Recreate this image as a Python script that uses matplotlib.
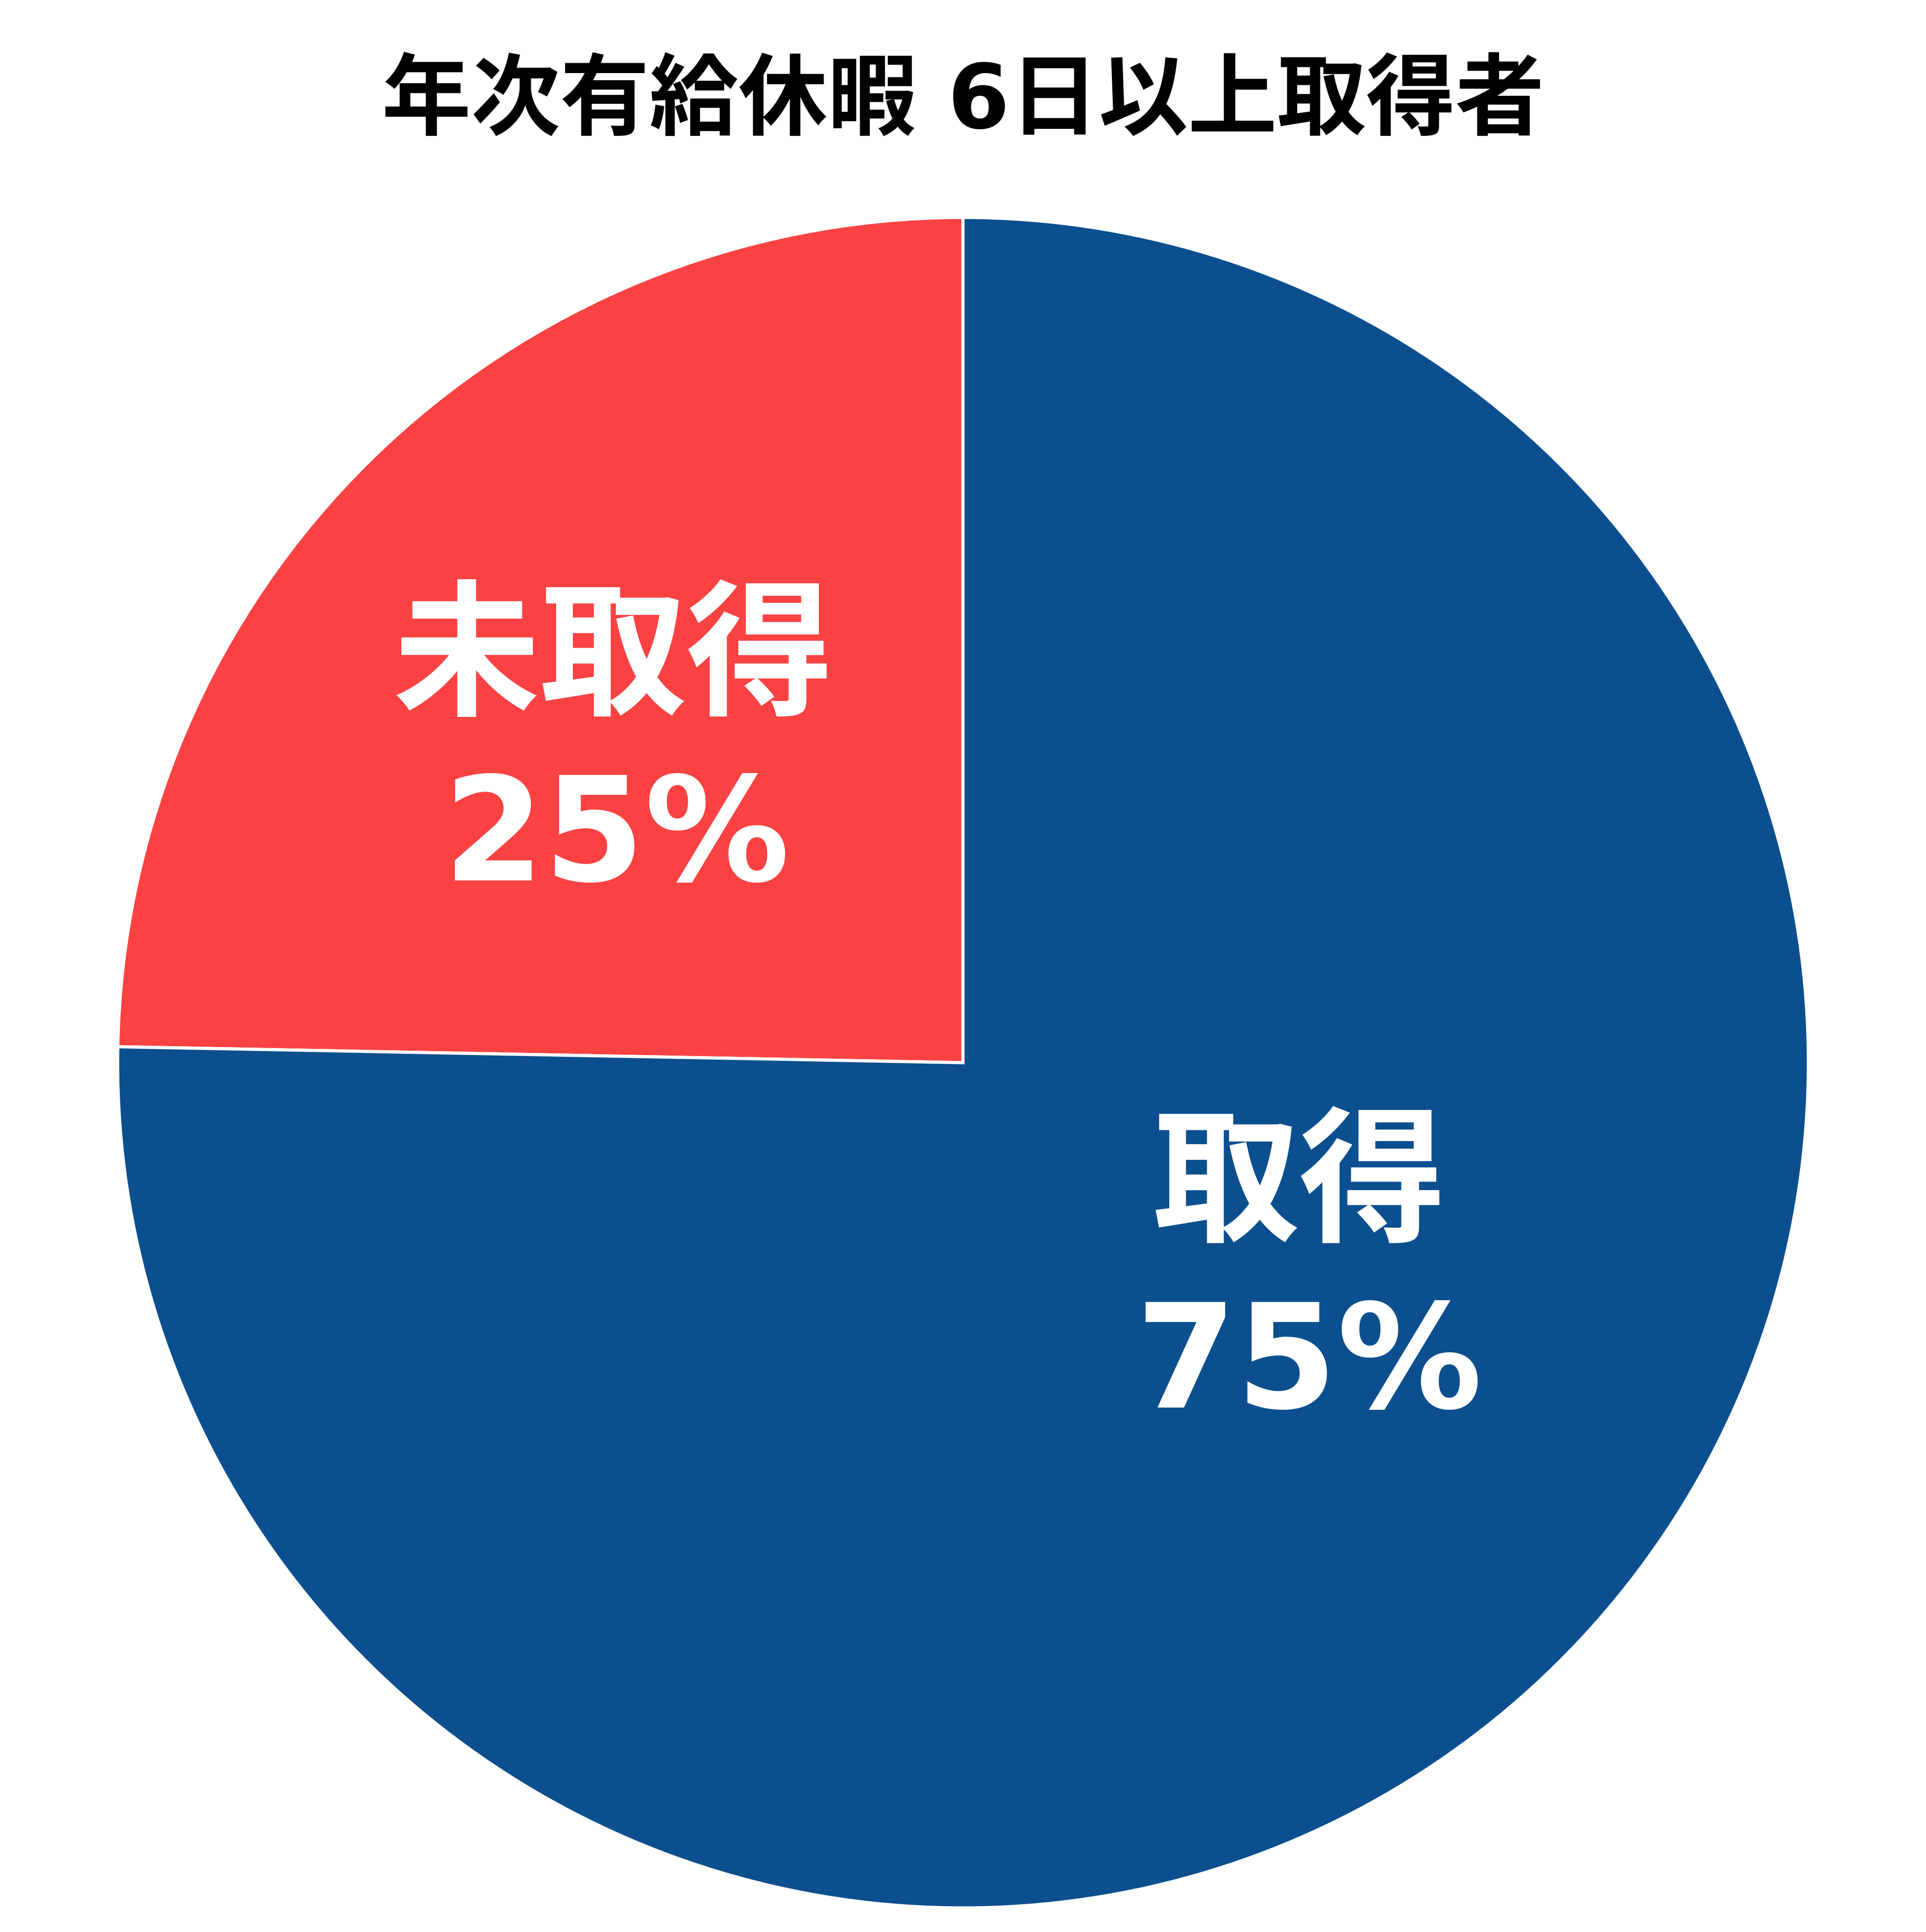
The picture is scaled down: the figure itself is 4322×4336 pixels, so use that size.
import matplotlib.pyplot as plt

# data
labels = ['未取得', '取得']
values = [24.7, 75.3]
colors = ['#FA4243', '#0B4F8E']
title = '年次有給休暇 6日以上取得者'

plt.rcParams['font.family'] = ['DejaVu Sans', 'Noto Sans CJK JP']

W, H, dpi = 4322, 4336, 300
fig = plt.figure(figsize=(W / dpi, H / dpi), dpi=dpi)

# pie centre and radius in pixels (from the reference)
cx, cy, r = 2161, 2385, 1897
ax = fig.add_axes([(cx - r) / W, (H - cy - r) / H, 2 * r / W, 2 * r / H])
ax.pie(values, colors=colors, startangle=90, counterclock=True, radius=1,
       wedgeprops=dict(edgecolor='white', linewidth=1.7))
ax.set_xlim(-1, 1)
ax.set_ylim(-1, 1)
ax.set_aspect('equal')
ax.axis('off')

# label positions in data units (name line, percent line)
name_pos = [(-0.414, 0.473), (0.398, -0.150)]
pct_pos = [(-0.41, 0.263), (0.409, -0.361)]
for lab, v, npos, ppos in zip(labels, values, name_pos, pct_pos):
    ax.text(npos[0], npos[1], lab, ha='center', va='center', color='white',
            fontsize=79, fontweight='bold')
    ax.text(ppos[0], ppos[1], f'{v:.0f}%', ha='center', va='center', color='white',
            fontsize=78, fontweight='bold')

fig.text(0.5, 1 - 232 / H, title, ha='center', va='center', fontsize=48,
         fontweight='bold', color='black')

fig.savefig('out.png', dpi=dpi, facecolor='white')
